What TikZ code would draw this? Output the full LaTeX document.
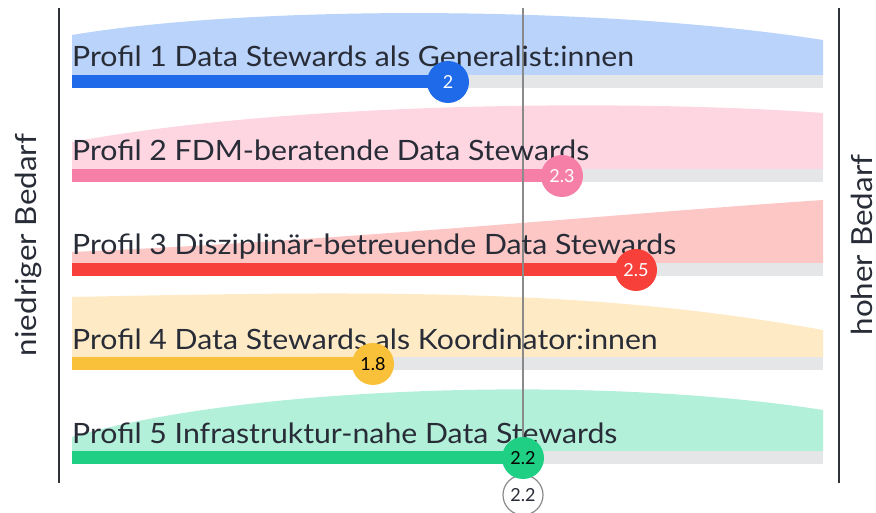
\documentclass[tikz,border=0pt]{standalone}
\usepackage{fontspec}
\setmainfont{Lato}
\newfontfamily\lblfont[FakeStretch=1.08]{Lato}
\definecolor{txt}{HTML}{282C37}
\definecolor{axis}{HTML}{30323A}
\definecolor{midline}{HTML}{8A8A8A}
\definecolor{track}{HTML}{E5E6E8}
\definecolor{bBar}{HTML}{1E6AE8}\definecolor{bFill}{HTML}{B9D3FB}
\definecolor{pBar}{HTML}{F57FA6}\definecolor{pFill}{HTML}{FDD6E1}
\definecolor{rBar}{HTML}{F7403A}\definecolor{rFill}{HTML}{FDC7C6}
\definecolor{yBar}{HTML}{F9C03A}\definecolor{yFill}{HTML}{FEEBC6}
\definecolor{gBar}{HTML}{1ECF84}\definecolor{gFill}{HTML}{B3F0DA}
\begin{document}
\begin{tikzpicture}[x=1pt,y=-1pt,
  lbl/.style={anchor=base west,inner sep=0pt,text=txt,font=\lblfont\fontsize{28}{32}\selectfont},
  side/.style={anchor=base,inner sep=0pt,rotate=90,text=txt,font=\lblfont\fontsize{29}{32}\selectfont},
  val/.style={circle,inner sep=0pt,minimum size=42pt,font=\fontsize{18}{20}\selectfont},
  trackbar/.style={fill=track},
  axisline/.style={draw=axis,line width=2.5pt},
]
\useasboundingbox (0,0) rectangle (876,513);
% area shapes
\fill[bFill] (72,75) -- (72,35) .. controls (250,5) and (600,5) .. (823,40) -- (823,75) -- cycle;
\fill[pFill] (72,169) -- (72,142) .. controls (300,100) and (650,100) .. (823,113) -- (823,169) -- cycle;
\fill[rFill] (72,263) -- (72,252) .. controls (350,240) and (600,215) .. (823,200) -- (823,263) -- cycle;
\fill[yFill] (72,357) -- (72,297) .. controls (400,290) and (600,290) .. (823,330) -- (823,357) -- cycle;
\fill[gFill] (72,451) -- (72,437) .. controls (250,385) and (600,375) .. (823,410) -- (823,451) -- cycle;
% tracks
\foreach \t in {75,169,263,357,451} \fill[trackbar] (72,\t) rectangle (823,\t+13);
% value bars
\fill[bBar] (72,75) rectangle (448,88);
\fill[pBar] (72,169) rectangle (562,182);
\fill[rBar] (72,263) rectangle (636,276);
\fill[yBar] (72,357) rectangle (373,370);
\fill[gBar] (72,451) rectangle (523,464);
% axes
\coordinate (ltop) at (59,8); \coordinate (lbot) at (59,483);
\coordinate (rtop) at (839,8); \coordinate (rbot) at (839,483);
\draw[axisline] (ltop) -- (lbot);
\draw[axisline] (rtop) -- (rbot);
% average circle and mid line
\node[val,draw=midline,line width=1.2pt,fill=white,text=txt,minimum size=40pt] (avg) at (523,495) {2.2};
\coordinate (vtop) at (523,8);
\draw[midline,line width=1.3pt] (vtop) -- (avg.north);
% labels
\node[lbl] (t1) at (72,67) {Profil 1 Data Stewards als Generalist:innen};
\node[lbl] (t2) at (72,161) {Profil 2 FDM-beratende Data Stewards};
\node[lbl] (t3) at (72,255) {Profil 3 Disziplinär-betreuende Data Stewards};
\node[lbl] (t4) at (72,349) {Profil 4 Data Stewards als Koordinator:innen};
\node[lbl] (t5) at (72,443) {Profil 5 Infrastruktur-nahe Data Stewards};
% values
\node[val,fill=bBar,text=white] (v1) at (448,82) {2};
\node[val,fill=pBar,text=white] (v2) at (562,176) {2.3};
\node[val,fill=rBar,text=white] (v3) at (636,270) {2.5};
\node[val,fill=yBar,text=black] (v4) at (373,364) {1.8};
\node[val,fill=gBar,text=black] (v5) at (523,458) {2.2};
% side labels
\node[side] (low) at (36,245) {niedriger Bedarf};
\node[side] (high) at (872,245) {hoher Bedarf};
\end{tikzpicture}
\end{document}
